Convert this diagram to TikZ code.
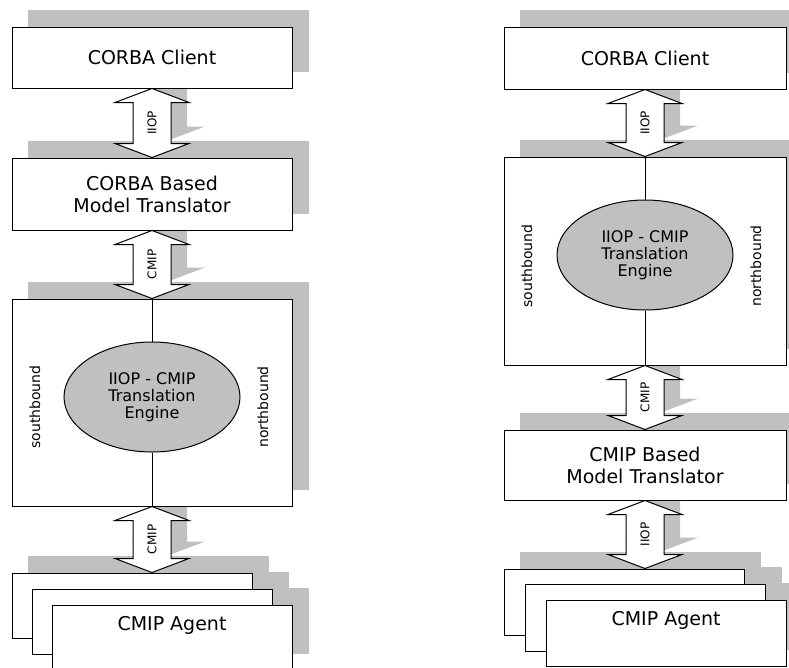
\documentclass[tikz,border=0pt]{standalone}
\usepackage{fontspec}
\setmainfont{DejaVu Sans}
\usetikzlibrary{calc,shapes.geometric}
\pgfdeclarelayer{bg}
\pgfsetlayers{bg,main}
\definecolor{shd}{HTML}{C0C0C0}
\tikzset{
  box/.style={draw=black, line width=1pt, fill=white, inner sep=0pt, align=center, font=\fontsize{19}{22}\selectfont},
  boxtext/.style={inner sep=0pt, font=\fontsize{19}{22}\selectfont},
  shadowfill/.style={fill=shd, draw=none},
  engine/.style={ellipse, draw=black, line width=1pt, fill=shd, inner sep=0pt, minimum width=176pt, minimum height=110pt, align=center, font=\fontsize{16}{17}\selectfont},
  side/.style={rotate=90, inner sep=0pt, font=\fontsize{14}{16}\selectfont},
  alabel/.style={rotate=90, inner sep=0pt, font=\fontsize{12}{14}\selectfont},
  blk/.style={draw=black, line width=1pt, fill=white, line join=miter},
  wire/.style={draw=black, line width=1pt},
}
\newcommand\boxshadow[1]{\fill[shadowfill] ($(#1.south west)+(16,-17)$) rectangle ($(#1.north east)+(16,-17)$);}
\newcommand\blockarrow[5]{%
  \path[#5] ($(#1)+(#3,#4)$) -- ++(37,14) -- ++(-18,0) -- ($(#2)+(#3,#4)+(19,-14)$) -- ++(18,0) -- ($(#2)+(#3,#4)$) -- ++(-37,-14) -- ++(18,0) -- ($(#1)+(#3,#4)+(-19,14)$) -- ++(-18,0) -- cycle;}
\begin{document}
\begin{tikzpicture}[x=1pt,y=-1pt]
\useasboundingbox (0,0) rectangle (789,667);
% ---------- left column ----------
\node[box, minimum width=280pt, minimum height=61pt] (L1) at (152,57.5) {CORBA Client};
\node[box, minimum width=280pt, minimum height=72pt] (L2) at (152,194) {CORBA Based\\Model Translator};
\node[box, minimum width=280pt, minimum height=207pt] (L3) at (152,402.5) {};
\node[engine] (LE) at (152,397) {IIOP - CMIP\\Translation\\Engine};
\draw[wire] (L3.north) -- (LE.north);
\draw[wire] (LE.south) -- (L3.south);
\node[side] (Ls) at (35,407) {southbound};
\node[side] (Ln) at (263,407) {northbound};
\node[box, minimum width=240pt, minimum height=65pt] (LA) at (132,605.5) {};
\node[box, minimum width=240pt, minimum height=65pt] (LB) at (152,621.5) {};
\node[box, minimum width=240pt, minimum height=65pt] (LC) at (172,637.5) {};
\node[boxtext] (Lag) at (172,625) {CMIP Agent};
\coordinate (LAtop) at (L3.south |- LA.north);
\blockarrow{L1.south}{L2.north}{0}{0}{blk}
\blockarrow{L2.south}{L3.north}{0}{0}{blk}
\blockarrow{L3.south}{LAtop}{0}{0}{blk}
\node[alabel] (la1) at ($(L1.south)!0.5!(L2.north)$) {IIOP};
\node[alabel] (la2) at ($(L2.south)!0.5!(L3.north)$) {CMIP};
\node[alabel] (la3) at ($(L3.south)!0.5!(LAtop)$) {CMIP};
% ---------- right column ----------
\node[box, minimum width=282pt, minimum height=62pt] (R1) at (645,58) {CORBA Client};
\node[box, minimum width=282pt, minimum height=208pt] (R2) at (645,261) {};
\node[engine] (RE) at (645,255) {IIOP - CMIP\\Translation\\Engine};
\draw[wire] (R2.north) -- (RE.north);
\draw[wire] (RE.south) -- (R2.south);
\node[side] (Rs) at (527,266) {southbound};
\node[side] (Rn) at (756,266) {northbound};
\node[box, minimum width=282pt, minimum height=70pt] (R3) at (645,465) {CMIP Based\\Model Translator};
\node[box, minimum width=240pt, minimum height=66pt] (RA) at (624.5,602) {};
\node[box, minimum width=240pt, minimum height=67pt] (RB) at (645,617.5) {};
\node[box, minimum width=240pt, minimum height=66pt] (RC) at (666,633) {};
\node[boxtext] (Rag) at (666,620) {CMIP Agent};
\coordinate (RAtop) at (R3.south |- RA.north);
\blockarrow{R1.south}{R2.north}{0}{0}{blk}
\blockarrow{R2.south}{R3.north}{0}{0}{blk}
\blockarrow{R3.south}{RAtop}{0}{0}{blk}
\node[alabel] (ra1) at ($(R1.south)!0.5!(R2.north)$) {IIOP};
\node[alabel] (ra2) at ($(R2.south)!0.5!(R3.north)$) {CMIP};
\node[alabel] (ra3) at ($(R3.south)!0.5!(RAtop)$) {IIOP};
% ---------- shadows ----------
\begin{pgfonlayer}{bg}
  \boxshadow{L1}\boxshadow{L2}\boxshadow{L3}\boxshadow{LA}\boxshadow{LB}\boxshadow{LC}
  \boxshadow{R1}\boxshadow{R2}\boxshadow{R3}\boxshadow{RA}\boxshadow{RB}\boxshadow{RC}
  \blockarrow{L1.south}{L2.north}{16}{-17}{shadowfill}
  \blockarrow{L2.south}{L3.north}{16}{-17}{shadowfill}
  \blockarrow{L3.south}{LAtop}{16}{-17}{shadowfill}
  \blockarrow{R1.south}{R2.north}{16}{-17}{shadowfill}
  \blockarrow{R2.south}{R3.north}{16}{-17}{shadowfill}
  \blockarrow{R3.south}{RAtop}{16}{-17}{shadowfill}
\end{pgfonlayer}
\end{tikzpicture}
\end{document}
